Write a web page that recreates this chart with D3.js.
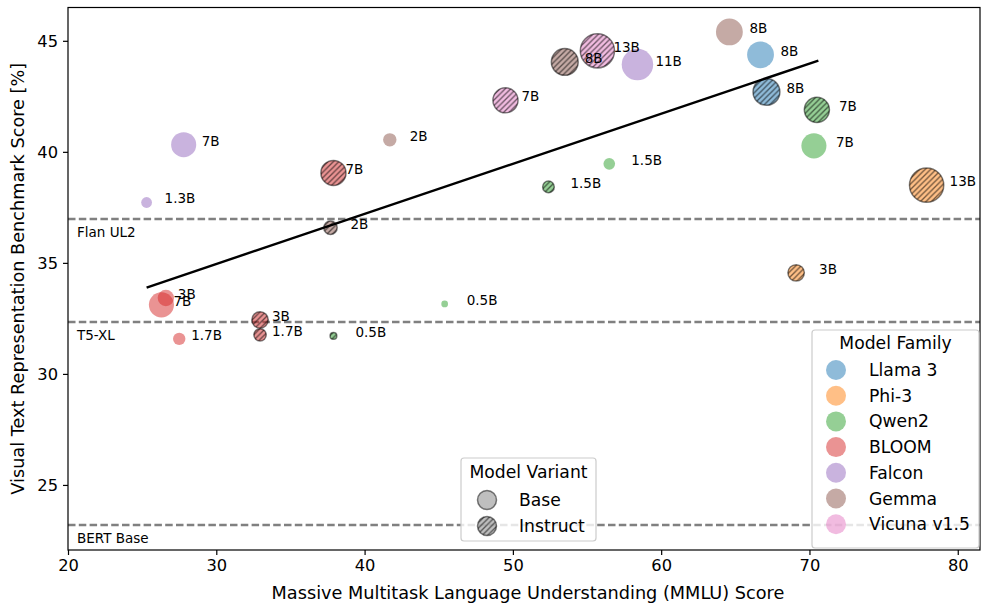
<!DOCTYPE html>
<html>
<head>
<meta charset="utf-8">
<script src="https://cdn.jsdelivr.net/npm/d3@7"></script>
<style>
  html, body { margin: 0; padding: 0; background: #fff; }
  svg { display: block; font-family: "DejaVu Sans", sans-serif; }
</style>
</head>
<body>
<svg id="chart" width="981" height="603"></svg>
<script>
// ---------------- DATA ----------------
const families = ["Llama 3", "Phi-3", "Qwen2", "BLOOM", "Falcon", "Gemma", "Vicuna v1.5"];
const familyColors = ["#1f77b4", "#ff7f0e", "#2ca02c", "#d62728", "#9467bd", "#8c564b", "#e377c2"];
const variants = ["Base", "Instruct"];

const modelFamily  = ["Llama 3","Llama 3","Phi-3","Phi-3","Qwen2","Qwen2","Qwen2","Qwen2","Qwen2","Qwen2",
                      "BLOOM","BLOOM","BLOOM","BLOOM","BLOOM","BLOOM","Falcon","Falcon","Falcon",
                      "Gemma","Gemma","Gemma","Gemma","Vicuna v1.5","Vicuna v1.5"];
const modelSize    = [8, 8, 3, 13, 0.5, 0.5, 1.5, 1.5, 7, 7,
                      1.7, 1.7, 3, 3, 7, 7, 1.3, 7, 11,
                      2, 2, 8, 8, 7, 13];
const modelVariant = ["Base","Instruct","Instruct","Instruct","Base","Instruct","Base","Instruct","Base","Instruct",
                      "Base","Instruct","Base","Instruct","Base","Instruct","Base","Base","Base",
                      "Base","Instruct","Base","Instruct","Instruct","Instruct"];
const mmluScore    = [66.7, 67.1, 69.1, 77.9, 45.4, 37.9, 56.5, 52.4, 70.3, 70.5,
                      27.5, 32.95, 26.6, 32.95, 26.3, 37.9, 25.3, 27.8, 58.4,
                      41.7, 37.7, 64.6, 53.5, 49.5, 55.7];
const vtrScore     = [44.37, 42.70, 34.55, 38.50, 33.15, 31.71, 39.46, 38.42, 40.27, 41.89,
                      31.58, 31.76, 33.42, 32.43, 33.11, 39.05, 37.72, 40.32, 43.93,
                      40.54, 36.58, 45.40, 44.05, 42.32, 44.55];

const baselineNames  = ["Flan UL2", "T5-XL", "BERT Base"];
const baselineScores = [36.98, 32.34, 23.2];

const trendX = [25.3, 70.6];
const trendY = [33.89, 44.11];

const xTicks = [20, 30, 40, 50, 60, 70, 80];
const yTicks = [25, 30, 35, 40, 45];

// ---------------- STYLE / LAYOUT ----------------
const labelDx = {"Llama 3": 20, "Phi-3": 23, "Qwen2": 22, "BLOOM": 12, "Falcon": 18, "Gemma": 20, "Vicuna v1.5": 16};
const plot = {left: 68, right: 980, top: 7.5, bottom: 550};
const tickFont = 16.3, legendFont = 17.2, titleFont = 17.7, labelFont = 13.5;

const svg = d3.select("#chart");
const x = d3.scaleLinear().domain([20, 81.5]).range([plot.left, plot.right]);
const y = d3.scaleLinear().domain([22.07, 46.5]).range([plot.bottom, plot.top]);
const r = d3.scaleSqrt().domain([0, 13]).range([0, 17.1]);
const color = d3.scaleOrdinal().domain(families).range(familyColors);

// hatch pattern
const defs = svg.append("defs");
const hp = 5.5;
const pat = defs.append("pattern").attr("id", "hatch").attr("patternUnits", "userSpaceOnUse")
  .attr("width", hp).attr("height", hp);
pat.append("path")
  .attr("d", `M0,${hp} L${hp},0 M${-hp/2},${hp/2} L${hp/2},${-hp/2} M${hp/2},${hp*1.5} L${hp*1.5},${hp/2}`)
  .attr("stroke", "rgba(0,0,0,0.55)").attr("stroke-width", 1.3);

defs.append("clipPath").attr("id", "clip").append("rect")
  .attr("x", plot.left).attr("y", plot.top)
  .attr("width", plot.right - plot.left).attr("height", plot.bottom - plot.top);

// baselines
const bl = svg.append("g").attr("clip-path", "url(#clip)");
baselineScores.forEach((v, i) => {
  bl.append("line").attr("x1", plot.left).attr("x2", plot.right)
    .attr("y1", y(v)).attr("y2", y(v))
    .attr("stroke", "#808080").attr("stroke-width", 2.5).attr("stroke-dasharray", "7.5,3.3");
  svg.append("text").attr("x", plot.left + 9).attr("y", y(v) + 18)
    .attr("font-size", labelFont).attr("fill", "#000").text(baselineNames[i]);
});

// points
const idx = d3.range(modelFamily.length);
const pts = svg.append("g");
idx.forEach(i => {
  const cx = x(mmluScore[i]), cy = y(vtrScore[i]), rr = r(modelSize[i]);
  const inst = modelVariant[i] === "Instruct";
  pts.append("circle").attr("cx", cx).attr("cy", cy).attr("r", rr)
    .attr("fill", color(modelFamily[i])).attr("fill-opacity", 0.5);
  if (inst) {
    pts.append("circle").attr("cx", cx).attr("cy", cy).attr("r", rr)
      .attr("fill", "url(#hatch)")
      .attr("stroke", "rgba(0,0,0,0.5)").attr("stroke-width", 1.5);
  }
});

// trend line
svg.append("line")
  .attr("x1", x(trendX[0])).attr("y1", y(trendY[0]))
  .attr("x2", x(trendX[1])).attr("y2", y(trendY[1]))
  .attr("stroke", "#000").attr("stroke-width", 2.4);

// labels
idx.forEach(i => {
  svg.append("text")
    .attr("x", x(mmluScore[i]) + labelDx[modelFamily[i]])
    .attr("y", y(vtrScore[i]) + 1)
    .attr("font-size", labelFont).attr("fill", "#000")
    .text(modelSize[i] + "B");
});

// axes
const xAxis = svg.append("g").attr("transform", `translate(0,${plot.bottom})`)
  .call(d3.axisBottom(x).tickValues(xTicks).tickSize(5).tickPadding(4));
const yAxis = svg.append("g").attr("transform", `translate(${plot.left},0)`)
  .call(d3.axisLeft(y).tickValues(yTicks).tickSize(5).tickPadding(5));
[xAxis, yAxis].forEach(a => {
  a.selectAll("text").attr("font-size", tickFont).attr("font-family", "DejaVu Sans").attr("fill", "#000");
  a.selectAll("line").attr("stroke", "#000").attr("stroke-width", 1.2);
  a.select(".domain").remove();
});
svg.append("rect").attr("x", plot.left).attr("y", plot.top)
  .attr("width", plot.right - plot.left).attr("height", plot.bottom - plot.top)
  .attr("fill", "none").attr("stroke", "#000").attr("stroke-width", 1.2);

svg.append("text").attr("x", 528).attr("y", 599)
  .attr("text-anchor", "middle").attr("font-size", titleFont)
  .text("Massive Multitask Language Understanding (MMLU) Score");
svg.append("text").attr("transform", `translate(24,${(plot.top + plot.bottom) / 2}) rotate(-90)`)
  .attr("text-anchor", "middle").attr("font-size", titleFont)
  .text("Visual Text Representation Benchmark Score [%]");

// legend: Model Family
const lf = svg.append("g");
lf.append("rect").attr("x", 812).attr("y", 330).attr("width", 167).attr("height", 218)
  .attr("rx", 3).attr("fill", "rgba(255,255,255,0.8)").attr("stroke", "#cccccc").attr("stroke-width", 1.2);
lf.append("text").attr("x", 895.5).attr("y", 349).attr("text-anchor", "middle")
  .attr("font-size", legendFont).text("Model Family");
families.forEach((f, i) => {
  const cy = 370 + i * 25.7;
  lf.append("circle").attr("cx", 836).attr("cy", cy).attr("r", 10)
    .attr("fill", color(f)).attr("fill-opacity", 0.5);
  lf.append("text").attr("x", 869).attr("y", cy + 6).attr("font-size", legendFont).text(f);
});

// legend: Model Variant
const lv = svg.append("g");
lv.append("rect").attr("x", 461).attr("y", 458).attr("width", 135).attr("height", 83)
  .attr("rx", 3).attr("fill", "rgba(255,255,255,0.8)").attr("stroke", "#cccccc").attr("stroke-width", 1.2);
lv.append("text").attr("x", 528.5).attr("y", 478).attr("text-anchor", "middle")
  .attr("font-size", legendFont).text("Model Variant");
variants.forEach((v, i) => {
  const cy = 500 + i * 26;
  lv.append("circle").attr("cx", 487).attr("cy", cy).attr("r", 9.5)
    .attr("fill", "#808080").attr("fill-opacity", 0.5);
  lv.append("circle").attr("cx", 487).attr("cy", cy).attr("r", 9.5)
    .attr("fill", v === "Instruct" ? "url(#hatch)" : "none")
    .attr("stroke", "rgba(0,0,0,0.5)").attr("stroke-width", 1.5);
  lv.append("text").attr("x", 519).attr("y", cy + 6).attr("font-size", legendFont)
    .text(v);
});
</script>
</body>
</html>
